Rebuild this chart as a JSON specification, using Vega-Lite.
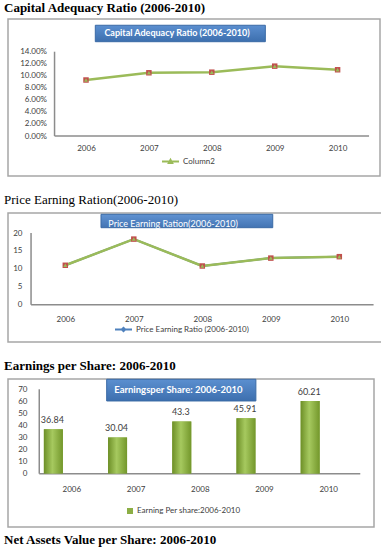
{
  "$schema": "https://vega.github.io/schema/vega-lite/v6.json",
  "padding": {"left": 3, "top": 1, "right": 0, "bottom": 0},
  "spacing": 16,
  "resolve": {"scale": {"color": "independent"}, "legend": {"color": "independent"}},
  "config": {
    "view": {"stroke": "#a6a6a6", "strokeWidth": 1.5},
    "axis": {"labelFont": "Lato", "labelFontSize": 8, "labelColor": "#404040", "grid": false, "domain": false, "ticks": false, "tickSize": 0, "labelOverlap": false},
    "legend": {"labelFont": "Lato", "labelFontSize": 8, "labelColor": "#404040", "padding": 0},
    "title": {"font": "Liberation Serif", "fontSize": 13, "color": "#000000", "anchor": "start", "baseline": "alphabetic", "dx": -4}
  },
  "vconcat": [
    {
      "width": 372,
      "height": 157,
      "title": {"text": "Capital Adequacy Ratio (2006-2010)", "fontWeight": "bold", "offset": 4},
      "data": {"values": [
        {"year": 2006, "car": 0.093, "series": "Column2"},
        {"year": 2007, "car": 0.105, "series": "Column2"},
        {"year": 2008, "car": 0.106, "series": "Column2"},
        {"year": 2009, "car": 0.116, "series": "Column2"},
        {"year": 2010, "car": 0.110, "series": "Column2"}
      ]},
      "layer": [
        {
          "mark": {"type": "line", "strokeWidth": 2.5, "strokeJoin": "round"},
          "encoding": {
            "x": {"field": "year", "type": "quantitative",
              "scale": {"domain": [2004.76, 2010.674], "nice": false, "zero": false},
              "axis": {"values": [2006, 2007, 2008, 2009, 2010], "tickCount": 20, "format": "d", "orient": "bottom", "offset": -40, "labelPadding": 8, "labelOverlap": false, "title": null}},
            "y": {"field": "car", "type": "quantitative",
              "scale": {"domain": [-0.0664, 0.1943], "nice": false, "zero": false},
              "axis": {"values": [0, 0.02, 0.04, 0.06, 0.08, 0.10, 0.12, 0.14], "tickCount": 20, "format": ".2%", "orient": "left", "offset": -46.5, "labelPadding": 8, "labelOverlap": false, "labelBound": false, "title": null}},
            "color": {"field": "series", "type": "nominal",
              "scale": {"range": ["#9bbb59"]},
              "legend": {"orient": "none", "legendX": 153, "legendY": 133, "title": null,
                "symbolType": "M-1,0H1M-0.2,0.18L0,-0.2L0.2,0.18Z", "symbolSize": 289, "symbolStrokeWidth": 2, "symbolFillColor": "#9bbb59", "labelOffset": 3}}
          }
        },
        {
          "data": {"values": [{"axis": "y"}]},
          "mark": {"type": "rule", "color": "#8c8c8c", "strokeWidth": 1.5},
          "encoding": {
            "x": {"datum": 2005.5, "type": "quantitative", "axis": {"title": null, "labelOverlap": false}},
            "y": {"datum": 0, "type": "quantitative", "axis": {"title": null, "labelOverlap": false}},
            "y2": {"datum": 0.14}
          }
        },
        {
          "data": {"values": [{"axis": "x"}]},
          "mark": {"type": "rule", "color": "#8c8c8c", "strokeWidth": 1.5},
          "encoding": {
            "x": {"datum": 2005.5, "type": "quantitative", "axis": {"title": null, "labelOverlap": false}},
            "x2": {"datum": 2010.5},
            "y": {"datum": 0, "type": "quantitative", "axis": {"title": null, "labelOverlap": false}}
          }
        },
        {
          "mark": {"type": "point", "shape": "square", "filled": true, "color": "#c0504d", "size": 30, "opacity": 1},
          "encoding": {
            "x": {"field": "year", "type": "quantitative", "axis": {"title": null, "labelOverlap": false}},
            "y": {"field": "car", "type": "quantitative", "axis": {"title": null, "labelOverlap": false}}
          }
        },
        {
          "mark": {"type": "point", "shape": "triangle-up", "filled": true, "color": "#9bbb59", "size": 16, "opacity": 1},
          "encoding": {
            "x": {"field": "year", "type": "quantitative", "axis": {"title": null, "labelOverlap": false}},
            "y": {"field": "car", "type": "quantitative", "axis": {"title": null, "labelOverlap": false}}
          }
        },
        {
          "data": {"values": [{"label": "Capital Adequacy Ratio (2006-2010)"}]},
          "mark": {"type": "rect", "stroke": "#3a6aa5", "strokeWidth": 1,
            "fill": {"gradient": "linear", "x1": 0, "y1": 0, "x2": 0, "y2": 1, "stops": [{"offset": 0, "color": "#5b8fd0"}, {"offset": 1, "color": "#3d6fae"}]}},
          "encoding": {
            "x": {"datum": 2006.148, "type": "quantitative", "axis": {"title": null, "labelOverlap": false}},
            "x2": {"datum": 2008.851},
            "y": {"datum": 0.1839, "type": "quantitative", "axis": {"title": null, "labelOverlap": false}},
            "y2": {"datum": 0.1566}
          }
        },
        {
          "data": {"values": [{"label": "Capital Adequacy Ratio (2006-2010)"}]},
          "mark": {"type": "text", "color": "#ffffff", "font": "Lato", "fontWeight": "bold", "fontSize": 9, "baseline": "middle", "align": "center"},
          "encoding": {
            "x": {"datum": 2007.447, "type": "quantitative", "axis": {"title": null, "labelOverlap": false}},
            "y": {"datum": 0.1711, "type": "quantitative", "axis": {"title": null, "labelOverlap": false}},
            "text": {"field": "label"}
          }
        }
      ]
    },
    {
      "width": 374,
      "height": 129,
      "title": {"text": "Price Earning Ration(2006-2010)", "fontWeight": "normal", "offset": 6},
      "data": {"values": [
        {"year": 2006, "pe": 11.0, "series": "Price Earning Ratio (2006-2010)"},
        {"year": 2007, "pe": 18.3, "series": "Price Earning Ratio (2006-2010)"},
        {"year": 2008, "pe": 10.8, "series": "Price Earning Ratio (2006-2010)"},
        {"year": 2009, "pe": 13.0, "series": "Price Earning Ratio (2006-2010)"},
        {"year": 2010, "pe": 13.4, "series": "Price Earning Ratio (2006-2010)"}
      ]},
      "layer": [
        {
          "mark": {"type": "line", "strokeWidth": 2, "strokeJoin": "round"},
          "encoding": {
            "x": {"field": "year", "type": "quantitative",
              "scale": {"domain": [2005.1635, 2010.623], "nice": false, "zero": false},
              "axis": {"values": [2006, 2007, 2008, 2009, 2010], "tickCount": 20, "format": "d", "orient": "bottom", "offset": -37.3, "labelPadding": 11, "labelOverlap": false, "title": null}},
            "y": {"field": "pe", "type": "quantitative",
              "scale": {"domain": [-10.40, 25.58], "nice": false, "zero": false},
              "axis": {"values": [0, 5, 10, 15, 20], "tickCount": 20, "orient": "left", "offset": -23, "labelPadding": 9, "labelOverlap": false, "labelBound": false, "title": null}},
            "color": {"field": "series", "type": "nominal",
              "scale": {"range": ["#4f81bd"]},
              "legend": {"orient": "none", "legendX": 106, "legendY": 107, "title": null,
                "symbolType": "M-1,0H1M-0.2,0L0,-0.2L0.2,0L0,0.2Z", "symbolSize": 289, "symbolStrokeWidth": 2, "symbolFillColor": "#4f81bd", "labelOffset": 3}}
          }
        },
        {
          "data": {"values": [{"axis": "y"}]},
          "mark": {"type": "rule", "color": "#8c8c8c", "strokeWidth": 1.5},
          "encoding": {
            "x": {"datum": 2005.5, "type": "quantitative", "axis": {"title": null, "labelOverlap": false}},
            "y": {"datum": 0, "type": "quantitative", "axis": {"title": null, "labelOverlap": false}},
            "y2": {"datum": 20}
          }
        },
        {
          "data": {"values": [{"axis": "x"}]},
          "mark": {"type": "rule", "color": "#8c8c8c", "strokeWidth": 1.5},
          "encoding": {
            "x": {"datum": 2005.5, "type": "quantitative", "axis": {"title": null, "labelOverlap": false}},
            "x2": {"datum": 2010.5},
            "y": {"datum": 0, "type": "quantitative", "axis": {"title": null, "labelOverlap": false}}
          }
        },
        {
          "mark": {"type": "line", "strokeWidth": 2.5, "strokeJoin": "round", "color": "#9bbb59"},
          "encoding": {
            "x": {"field": "year", "type": "quantitative", "axis": {"title": null, "labelOverlap": false}},
            "y": {"field": "pe", "type": "quantitative", "axis": {"title": null, "labelOverlap": false}}
          }
        },
        {
          "mark": {"type": "point", "shape": "square", "filled": true, "color": "#c0504d", "size": 30, "opacity": 1},
          "encoding": {
            "x": {"field": "year", "type": "quantitative", "axis": {"title": null, "labelOverlap": false}},
            "y": {"field": "pe", "type": "quantitative", "axis": {"title": null, "labelOverlap": false}}
          }
        },
        {
          "mark": {"type": "point", "shape": "triangle-up", "filled": true, "color": "#9bbb59", "size": 16, "opacity": 1},
          "encoding": {
            "x": {"field": "year", "type": "quantitative", "axis": {"title": null, "labelOverlap": false}},
            "y": {"field": "pe", "type": "quantitative", "axis": {"title": null, "labelOverlap": false}}
          }
        },
        {
          "data": {"values": [{"label": "Price Earning Ration(2006-2010)"}]},
          "mark": {"type": "rect", "stroke": "#3a6aa5", "strokeWidth": 1,
            "fill": {"gradient": "linear", "x1": 0, "y1": 0, "x2": 0, "y2": 1, "stops": [{"offset": 0, "color": "#6193d2"}, {"offset": 1, "color": "#4374b3"}]}},
          "encoding": {
            "x": {"datum": 2006.521, "type": "quantitative", "axis": {"title": null, "labelOverlap": false}},
            "x2": {"datum": 2009.028},
            "y": {"datum": 25.22, "type": "quantitative", "axis": {"title": null, "labelOverlap": false}},
            "y2": {"datum": 21.48}
          }
        },
        {
          "data": {"values": [{"label": "Price Earning Ration(2006-2010)"}]},
          "mark": {"type": "text", "color": "#ffffff", "font": "Lato", "fontWeight": "normal", "fontSize": 9, "baseline": "middle", "align": "left"},
          "encoding": {
            "x": {"datum": 2006.628, "type": "quantitative", "axis": {"title": null, "labelOverlap": false}},
            "y": {"datum": 22.51, "type": "quantitative", "axis": {"title": null, "labelOverlap": false}},
            "text": {"field": "label"}
          }
        }
      ]
    },
    {
      "spacing": 5,
      "resolve": {"scale": {"color": "independent"}, "legend": {"color": "independent"}},
      "vconcat": [
        {
          "width": 366,
          "height": 148,
          "title": {"text": "Earnings per Share: 2006-2010", "fontWeight": "bold", "offset": 6},
          "data": {"values": [
            {"year": 2006, "eps": 36.84, "series": "Earning Per share:2006-2010"},
            {"year": 2007, "eps": 30.04, "series": "Earning Per share:2006-2010"},
            {"year": 2008, "eps": 43.3, "series": "Earning Per share:2006-2010"},
            {"year": 2009, "eps": 45.91, "series": "Earning Per share:2006-2010"},
            {"year": 2010, "eps": 60.21, "series": "Earning Per share:2006-2010"}
          ]},
          "layer": [
            {
              "mark": {"type": "bar", "width": 19, "xOffset": -18},
              "encoding": {
                "x": {"field": "year", "type": "quantitative",
                  "scale": {"domain": [2005.0909, 2010.636], "nice": false, "zero": false},
                  "axis": {"values": [2006, 2007, 2008, 2009, 2010], "tickCount": 20, "format": "d", "orient": "bottom", "offset": -53.3, "labelPadding": 12, "labelOverlap": false, "title": null}},
                "y": {"field": "eps", "type": "quantitative",
                  "scale": {"domain": [-44.2, 78.52], "nice": false, "zero": false},
                  "axis": {"values": [0, 10, 20, 30, 40, 50, 60, 70], "tickCount": 20, "orient": "left", "offset": -27, "labelPadding": 8, "labelOverlap": false, "labelBound": false, "title": null}},
                "y2": {"datum": 0},
                "color": {"field": "series", "type": "nominal",
                  "scale": {"range": ["#8cae45"]},
                  "legend": {"orient": "none", "legendX": 118, "legendY": 128, "title": null,
                    "symbolType": "square", "symbolSize": 36, "labelOffset": 3}}
              }
            },
            {
              "data": {"values": [{"axis": "y"}]},
              "mark": {"type": "rule", "color": "#8c8c8c", "strokeWidth": 1.5},
              "encoding": {
                "x": {"datum": 2005.5, "type": "quantitative", "axis": {"title": null, "labelOverlap": false}},
                "y": {"datum": 0, "type": "quantitative", "axis": {"title": null, "labelOverlap": false}},
                "y2": {"datum": 70}
              }
            },
            {
              "data": {"values": [{"axis": "x"}]},
              "mark": {"type": "rule", "color": "#8c8c8c", "strokeWidth": 1.5},
              "encoding": {
                "x": {"datum": 2005.5, "type": "quantitative", "axis": {"title": null, "labelOverlap": false}},
                "x2": {"datum": 2010.5},
                "y": {"datum": 0, "type": "quantitative", "axis": {"title": null, "labelOverlap": false}}
              }
            },
            {
              "mark": {"type": "bar", "width": 19, "xOffset": -18,
                "fill": {"gradient": "linear", "x1": 0, "y1": 0, "x2": 1, "y2": 0, "stops": [{"offset": 0, "color": "#6d8f27"}, {"offset": 0.45, "color": "#a6c95f"}, {"offset": 1, "color": "#73972b"}]}},
              "encoding": {
                "x": {"field": "year", "type": "quantitative", "axis": {"title": null, "labelOverlap": false}},
                "y": {"field": "eps", "type": "quantitative", "axis": {"title": null, "labelOverlap": false}},
                "y2": {"datum": 0}
              }
            },
            {
              "mark": {"type": "text", "font": "Lato", "fontSize": 9, "color": "#404040", "baseline": "bottom", "dy": -4, "xOffset": -19},
              "encoding": {
                "x": {"field": "year", "type": "quantitative", "axis": {"title": null, "labelOverlap": false}},
                "y": {"field": "eps", "type": "quantitative", "axis": {"title": null, "labelOverlap": false}},
                "text": {"field": "eps", "type": "quantitative"}
              }
            },
            {
              "data": {"values": [{"label": "Earningsper Share: 2006-2010"}]},
              "mark": {"type": "rect", "stroke": "#3a6aa5", "strokeWidth": 1,
                "fill": {"gradient": "linear", "x1": 0, "y1": 0, "x2": 0, "y2": 1, "stops": [{"offset": 0, "color": "#5b8fd0"}, {"offset": 1, "color": "#3d6fae"}]}},
              "encoding": {
                "x": {"datum": 2006.55, "type": "quantitative", "axis": {"title": null, "labelOverlap": false}},
                "x2": {"datum": 2008.874},
                "y": {"datum": 78.3, "type": "quantitative", "axis": {"title": null, "labelOverlap": false}},
                "y2": {"datum": 60.3}
              }
            },
            {
              "data": {"values": [{"label": "Earningsper Share: 2006-2010"}]},
              "mark": {"type": "text", "color": "#ffffff", "font": "Lato", "fontWeight": "bold", "fontSize": 9.5, "baseline": "middle", "align": "left"},
              "encoding": {
                "x": {"datum": 2006.667, "type": "quantitative", "axis": {"title": null, "labelOverlap": false}},
                "y": {"datum": 69.15, "type": "quantitative", "axis": {"title": null, "labelOverlap": false}},
                "text": {"field": "label"}
              }
            }
          ]
        },
        {
          "width": 300,
          "height": 1,
          "view": {"stroke": null},
          "title": {"text": "Net Assets Value per Share: 2006-2010", "fontWeight": "bold", "offset": 0},
          "data": {"values": [{}]},
          "mark": {"type": "point", "opacity": 0}
        }
      ]
    }
  ]
}
